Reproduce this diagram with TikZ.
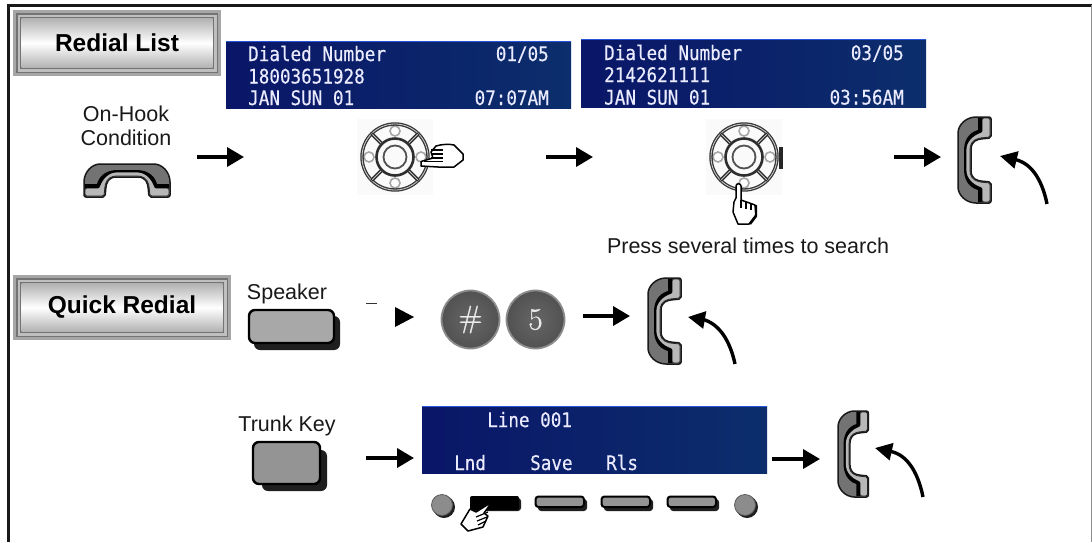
\documentclass[tikz,border=0pt]{standalone}
\usepackage{fontspec}
\setmainfont{Liberation Sans}
\newfontfamily\scrfont[FakeStretch=0.88,FakeBold=0.35]{DejaVu Sans Mono}
\newfontfamily\lmfont[FakeBold=0.9]{Latin Modern Roman}
\usetikzlibrary{arrows.meta,shadings}
\definecolor{scrL}{HTML}{0A1668}
\definecolor{scrR}{HTML}{0C2E6C}
\definecolor{scrT}{HTML}{2B55D8}
\tikzset{
  x=1pt,y=-1pt,
  flowarrow/.style={line width=3.6pt,-{Triangle[width=19pt,length=17pt]}},
  curvearrow/.style={line width=3.4pt,-{Triangle[width=17pt,length=17pt]}},
  lbl/.style={font=\fontsize{21.5}{24}\selectfont,text=black!90,inner sep=0pt,anchor=center},
  titletext/.style={font=\fontsize{24.5}{28}\selectfont\bfseries,text=black,inner sep=0pt},
  screen/.style={left color=scrL,right color=scrR,inner sep=0pt,anchor=north west},
  scrtext/.style={font=\scrfont\fontsize{20}{22}\selectfont,text=white!92!blue,inner sep=0pt,anchor=base west},
  scrtextr/.style={scrtext,anchor=base east},
  softkey/.style={fill=black!42,draw=black,line width=2pt,rounded corners=3pt},
  bigkey/.style={draw=black,line width=2.4pt,rounded corners=6pt},
  shadowkey/.style={fill=black!88,rounded corners=3pt},
  bigshadow/.style={fill=black!88,rounded corners=6pt},
  dial/.style={circle,inner sep=0pt,minimum size=58pt,draw=black!45,line width=1.8pt,inner color=black!60,outer color=black!68,text=white!92!black,font=\lmfont\fontsize{31}{33}\selectfont},
  handout/.style={fill=white,draw=black,line width=1.5pt,line join=round},
  pics/handset/.style={code={
    \fill[black!55,draw=black!90,line width=1.5pt,line join=round,rounded corners=2pt]
      (33,0) -- (33,21) -- (22,22) .. controls (15,24) and (13,28) .. (13,34) -- (13,52)
      .. controls (13,58) and (15,62) .. (22,64) -- (33,65) -- (33,86) -- (20,86)
      .. controls (8,86) and (0,78) .. (0,68) -- (0,18) .. controls (0,8) and (8,0) .. (20,0) -- cycle;
    \fill[black!28,draw=black!85,line width=.8pt,rounded corners=1.5pt]
      (32,1) -- (32,20) -- (22,21) .. controls (14,23) and (12,28) .. (12,34) -- (12,52)
      .. controls (12,58) and (14,63) .. (22,65) -- (32,66) -- (32,85) -- (24,85) -- (24,71)
      .. controls (15,68) and (8,62) .. (8,52) -- (8,34) .. controls (8,24) and (15,18) .. (24,15) -- (24,1) -- cycle;
    \fill[black] (20,1) -- (24,1) -- (24,15) .. controls (15,18) and (8,24) .. (8,34) -- (8,52)
      .. controls (8,62) and (15,68) .. (24,71) -- (24,85) -- (20,85) -- (20,73)
      .. controls (10,70) and (6,62) .. (6,52) -- (6,34) .. controls (6,24) and (10,16) .. (20,13) -- cycle;
  }},
  pics/navpad/.style={code={
    \fill[black!2] (-38,-38) rectangle (38,38);
    \foreach \a in {0,90,180,270}{\draw[black!35,line width=1.6pt,fill=white] (\a:26) circle (5);}
    \draw[black!78,line width=3.4pt] (0,0) circle (33);
    \draw[black!20,line width=.8pt] (0,0) circle (33);
    \draw[black!82,line width=2.6pt] (0,0) circle (18.5);
    \draw[black!68,line width=1.8pt] (0,0) circle (11.5);
    \foreach \a in {45,135,225,315}{
      \draw[black!82,line width=3.8pt] (\a:18.5) -- (\a:33);
      \draw[black!25,line width=.8pt] (\a:19.5) -- (\a:32);
    }
  }},
}
\begin{document}
\begin{tikzpicture}
\useasboundingbox (0,0) rectangle (1092,542);
\fill[white] (0,0) rectangle (1092,542);
% frame
\draw[black!90,line width=3pt] (8,542) -- (8,5) -- (1092,5);
\draw[black!45,line width=1pt] (1091,5) -- (1091,542);

% title boxes
\fill[black!35] (13,10) rectangle (221,76);
\fill[black!55] (16,13) rectangle (218,73);
\fill[black!25] (17.5,14.5) rectangle (216.5,71.5);
\fill[black!55] (20,17) rectangle (214,69);
\node[top color=black!30,bottom color=black!30,middle color=white,minimum width=191pt,minimum height=49pt,inner sep=0pt,titletext] (redial) at (117,43) {Redial List};

\fill[black!35] (13,275) rectangle (231,340);
\fill[black!55] (16,278) rectangle (228,337);
\fill[black!25] (17.5,279.5) rectangle (226.5,335.5);
\fill[black!55] (20,282) rectangle (224,333);
\node[top color=black!30,bottom color=black!30,middle color=white,minimum width=201pt,minimum height=48pt,inner sep=0pt,titletext] (quick) at (122,307.5) {Quick Redial};

% screens
\node[screen,minimum width=345pt,minimum height=67pt] (s1) at (226,41) {};
\draw[scrT,line width=1pt] (s1.north west) -- (s1.north east);
\node[scrtext] (s1a) at (248,61) {Dialed Number};
\node[scrtext] (s1b) at (248,83.5) {18003651928};
\node[scrtext] (s1c) at (248,105) {JAN SUN 01};
\node[scrtextr] (s1d) at (549,61) {01/05};
\node[scrtextr] (s1e) at (549,105) {07:07AM};

\node[screen,minimum width=345pt,minimum height=68pt] (s2) at (581,39) {};
\draw[scrT,line width=1pt] (s2.north west) -- (s2.north east);
\node[scrtext] (s2a) at (604,60) {Dialed Number};
\node[scrtext] (s2b) at (604,82) {2142621111};
\node[scrtext] (s2c) at (604,104.5) {JAN SUN 01};
\node[scrtextr] (s2d) at (904,60) {03/05};
\node[scrtextr] (s2e) at (904,104.5) {03:56AM};

\node[screen,minimum width=345pt,minimum height=67pt] (s3) at (422,406) {};
\draw[scrT,line width=1pt] (s3.north west) -- (s3.north east);
\node[scrtext] (s3a) at (487,427) {Line 001};
\node[scrtext] (s3b) at (454,470) {Lnd};
\node[scrtext] (s3c) at (530,470) {Save};
\node[scrtext] (s3d) at (606,470) {Rls};

% labels
\node[lbl] (onhook) at (126,114) {On-Hook};
\node[lbl] (cond) at (126,138) {Condition};
\node[lbl] (press) at (748,246) {Press several times to search};
\node[lbl] (spk) at (287,294) {Speaker};
\node[lbl] (trunk) at (287,426) {Trunk Key};

% handsets
\pic[rotate=-90] (h0) at (170,164) {handset};
\pic (h1) at (958,117) {handset};
\pic (h2) at (648,278) {handset};
\pic[xscale=.92] (h3) at (838,411) {handset};

% nav pads
\pic (n1) at (395,157) {navpad};
\pic (n2) at (744,157) {navpad};
\fill[black!85] (779,147) rectangle (783,169);

% pointing hands
\path[handout] (421,161.5) -- (433,158) -- (431,152) -- (436,146) .. controls (442,144) and (450,144) .. (454,145) -- (463,154) -- (463,160) -- (454,167) -- (438,167) -- (421,166) -- cycle;
\foreach \yy in {150,154,158}{\draw[black,line width=1.2pt] (431,\yy) -- (443,\yy);}
\draw[black,line width=1.2pt] (424,161.5) -- (443,161.5);

\path[handout] (736,186) .. controls (736,183) and (741,183) .. (741,186) -- (741,200) -- (755,205) -- (756,215) -- (749,224) -- (738,224) -- (733,212) -- (734,202) -- (736,198) -- cycle;
\draw[black,line width=1.2pt] (741,200) -- (741,208) (746,202) -- (746,209) (751,204) -- (751,210);
\draw[black,line width=2.4pt] (756,205) -- (756,216) -- (750,224);

% keys
\fill[bigshadow] (254,316) rectangle (340,350);
\path[bigkey,fill=black!34] (249,310) rectangle (334,343);
\node[inner sep=0pt] (kspk) at (291.5,326.5) {};
\fill[bigshadow] (262,450) rectangle (327,491);
\path[bigkey,fill=black!42] (253,442) rectangle (320,484);
\node[inner sep=0pt] (ktrk) at (286.5,463) {};

% dial keys
\node[dial] (khash) at (470.5,319.5) {\#};
\node[dial] (kfive) at (535.5,319.5) {5};

% soft keys
\fill[shadowkey] (472,498) rectangle (521,511);
\fill[black,rounded corners=2pt] (470,496) rectangle (519,510);
\fill[shadowkey] (538,499) rectangle (587,511);
\path[softkey] (535.5,496.5) rectangle (584,507);
\fill[shadowkey] (604,499) rectangle (653,511);
\path[softkey] (601.5,496.5) rectangle (650,507);
\fill[shadowkey] (670,499) rectangle (719,511);
\path[softkey] (667.5,496.5) rectangle (716,507);
\fill[black!88] (444,507) circle (11);
\fill[black!45,draw=black!65,line width=.8pt] (442,505) circle (10.5);
\fill[black!88] (747,507) circle (11);
\fill[black!45,draw=black!65,line width=.8pt] (745,505) circle (10.5);

% hand on soft key
\path[handout] (492,502) -- (476,512) -- (470,509) -- (461,524) -- (468,531) -- (483,527) -- (488,516) -- (484,513) -- cycle;
\draw[black,line width=1.2pt] (476,517) -- (488,512) (477,521) -- (487,517) (478,525) -- (486,521);

% connectors
\coordinate (a1s) at (197,157); \coordinate (a1e) at (244,157);
\coordinate (a2s) at (546,157); \coordinate (a2e) at (593,157);
\coordinate (a3s) at (894,157); \coordinate (a3e) at (941,157);
\coordinate (a4s) at (583,316); \coordinate (a4e) at (630,316);
\coordinate (a5s) at (366,458); \coordinate (a5e) at (414,458);
\coordinate (a6s) at (772,459); \coordinate (a6e) at (820,459);
\coordinate (d1) at (366,303); \coordinate (d2) at (377,303);
\draw[flowarrow] (a1s) -- (a1e);
\draw[flowarrow] (a2s) -- (a2e);
\draw[flowarrow] (a3s) -- (a3e);
\draw[flowarrow] (a4s) -- (a4e);
\draw[flowarrow] (a5s) -- (a5e);
\draw[flowarrow] (a6s) -- (a6e);
\draw[black!80,line width=1pt] (d1) -- (d2);
\fill[black] (395,307) -- (414,317) -- (395,327) -- cycle;

\coordinate (c1s) at (1047,204); \coordinate (c1e) at (1000,156);
\coordinate (c2s) at (735,364); \coordinate (c2e) at (688,317);
\coordinate (c3s) at (923,497); \coordinate (c3e) at (875,448);
\draw[curvearrow] (c1s) .. controls (1043,184) and (1034,165) .. (1017,160) -- (c1e);
\draw[curvearrow] (c2s) .. controls (731,345) and (722,326) .. (705,320) -- (c2e);
\draw[curvearrow] (c3s) .. controls (919,477) and (910,457) .. (893,452) -- (c3e);
\end{tikzpicture}
\end{document}
